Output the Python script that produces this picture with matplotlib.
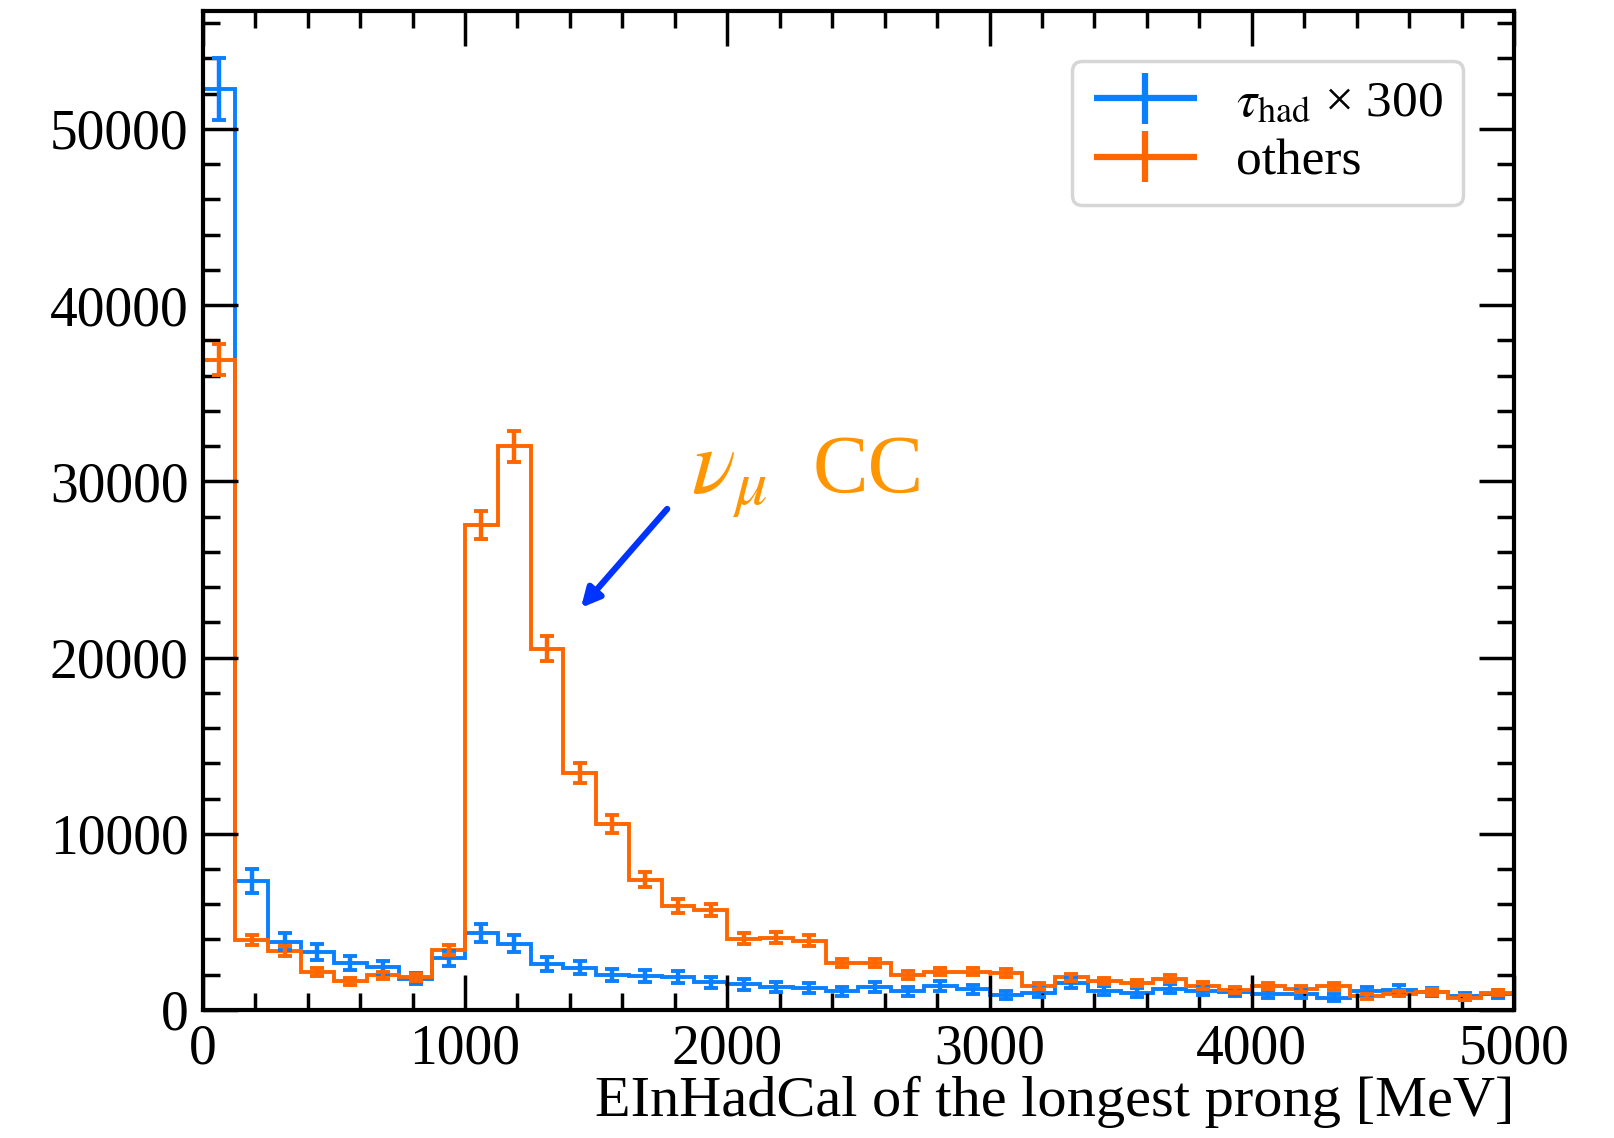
import numpy as np
import matplotlib
matplotlib.use("Agg")
from matplotlib import pyplot as plt
from matplotlib.ticker import MultipleLocator
from matplotlib.legend_handler import HandlerErrorbar
from matplotlib.container import ErrorbarContainer

# === DATA (bin contents) ===
bin_edges = np.arange(0, 5001, 125)

tau_had = [52250, 7320, 3860, 3280, 2660, 2420, 1780, 2930, 4390, 3760,
           2590, 2400, 1980, 1920, 1860, 1580, 1450, 1320, 1240, 1050,
           1320, 1070, 1350, 1180, 860, 980, 1520, 1100, 980, 1210,
           1080, 1020, 910, 910, 700, 1080, 1130, 1020, 770, 890]
tau_had_err = [1760, 660, 480, 440, 400, 380, 330, 420, 510, 470,
               390, 380, 340, 340, 330, 310, 290, 280, 270, 250,
               280, 250, 280, 260, 230, 240, 300, 260, 240, 270,
               250, 250, 230, 230, 200, 250, 260, 250, 210, 230]

others = [36890, 3970, 3350, 2150, 1620, 1960, 1850, 3400, 27500, 32000,
          20500, 13440, 10550, 7390, 5900, 5680, 4040, 4100, 3930, 2670,
          2670, 1990, 2180, 2180, 2100, 1350, 1850, 1640, 1530, 1770,
          1380, 1150, 1360, 1210, 1340, 770, 920, 1020, 700, 980]
others_err = [880, 300, 280, 220, 190, 210, 210, 280, 800, 880,
              720, 570, 500, 420, 370, 360, 310, 310, 300, 250,
              250, 210, 220, 220, 220, 180, 210, 190, 190, 200,
              180, 160, 180, 170, 180, 130, 150, 150, 130, 150]

blue = "#0a80ff"
orange = "#ff6600"

# === STYLE ===
plt.rcParams["font.family"] = ["Liberation Serif", "DejaVu Serif"]
plt.rcParams["mathtext.fontset"] = "stix"

fig = plt.figure(figsize=(16.15, 11.38), dpi=100)
ax = fig.add_axes([0.1255, 0.1125, 0.812, 0.878])

centers = 0.5 * (bin_edges[:-1] + bin_edges[1:])

for vals, errs, col, lab in [
    (tau_had, tau_had_err, blue, r"$\tau_{\rm had}$ × 300"),
    (others, others_err, orange, "others"),
]:
    ax.stairs(vals, bin_edges, color=col, linewidth=2.8)
    ax.errorbar(centers, vals, yerr=errs, fmt="none", ecolor=col,
                elinewidth=3.2, capsize=5, capthick=2.8)
    # legend-only entry with both horizontal and vertical bars
    ax.errorbar([], [], xerr=[], yerr=[], fmt="none", ecolor=col,
                elinewidth=4.5, label=lab)

ax.set_xlim(0, 5000)
ax.set_ylim(0, 56700)
ax.xaxis.set_major_locator(MultipleLocator(1000))
ax.xaxis.set_minor_locator(MultipleLocator(200))
ax.yaxis.set_major_locator(MultipleLocator(10000))
ax.yaxis.set_minor_locator(MultipleLocator(2000))
ax.tick_params(which="both", direction="in", top=True, right=True,
               labelsize=40, width=2.5)
ax.tick_params(which="major", length=25, pad=10)
ax.tick_params(which="minor", length=12)
for sp in ax.spines.values():
    sp.set_linewidth(3)

ax.set_xlabel("EInHadCal of the longest prong [MeV]", fontsize=42,
              loc="right", labelpad=0)

leg = ax.legend(loc="upper right", fontsize=37, frameon=True,
                fancybox=True, handlelength=2.1, handletextpad=0.72,
                borderpad=0.38, borderaxespad=0,
                bbox_to_anchor=(0.961, 0.950), labelspacing=0.22,
                handler_map={ErrorbarContainer:
                             HandlerErrorbar(xerr_size=1.0, yerr_size=0.5)})
leg.get_frame().set_edgecolor("#cccccc")
leg.get_frame().set_linewidth(2.5)

# annotation for the numu CC peak
ax.annotate("", xy=(1435, 22700), xytext=(1778, 28550),
            arrowprops=dict(arrowstyle="-|>", color="#0033ff", lw=4.5,
                            mutation_scale=28))
ax.text(1860, 29400, r"$\nu_{\mu}$", color="#ff9500", fontsize=66,
        ha="left", va="baseline")
ax.text(2325, 29400, "CC", color="#ff9500", fontsize=60,
        ha="left", va="baseline")

fig.savefig("out.png", dpi=100)
